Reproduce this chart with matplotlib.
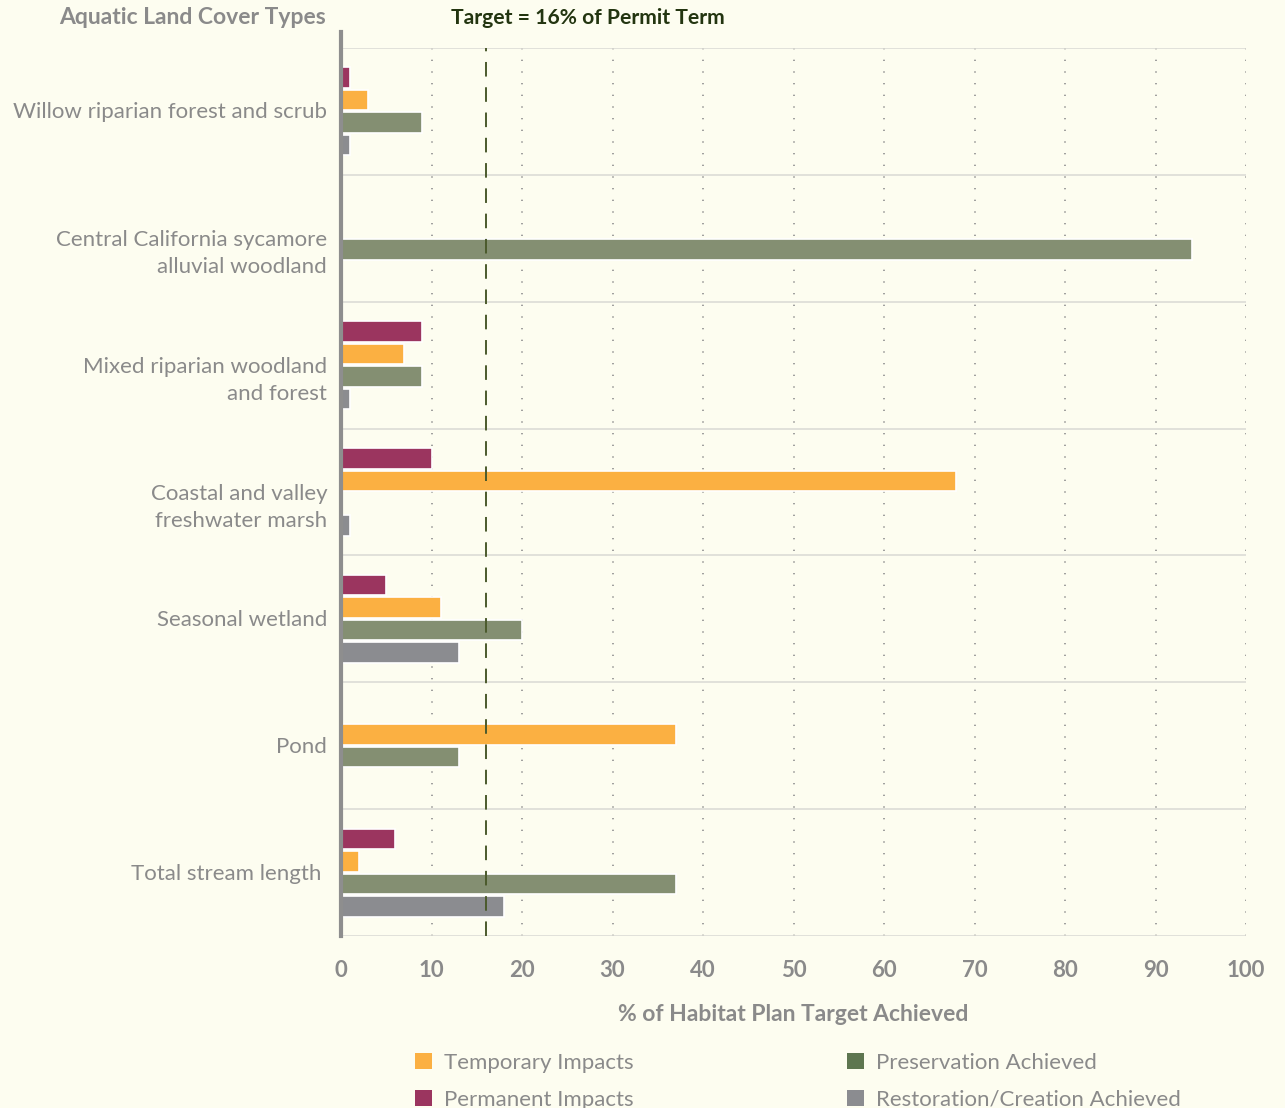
import matplotlib
matplotlib.use("Agg")
import matplotlib.pyplot as plt
import matplotlib.transforms as mtransforms
import numpy as np
from matplotlib.patches import Patch

plt.rcParams['font.family'] = ['Lato', 'DejaVu Sans']

# habitat categories, top to bottom
categories = [
    "Willow riparian forest and scrub",
    "Central California sycamore\nalluvial woodland",
    "Mixed riparian woodland\nand forest",
    "Coastal and valley\nfreshwater marsh",
    "Seasonal wetland",
    "Pond",
    "Total stream length ",
]

# % of habitat plan target achieved
permanent = [1, 0, 9, 10, 5, 0, 6]
temporary = [3, 0, 7, 68, 11, 37, 2]
preservation = [9, 94, 9, 0, 20, 13, 37]
restoration = [1, 0, 1, 1, 13, 0, 18]

target = 16

bar_colors = ["#9b355f", "#fbb042", "#848f72", "#8b8c90"]
legend_colors = {"Temporary Impacts": "#fbb042", "Permanent Impacts": "#9b355f",
                 "Preservation Achieved": "#5e7650",
                 "Restoration/Creation Achieved": "#8b8c90"}

bg = "#fdfdf0"
grey_text = "#8a8a8a"

fig = plt.figure(figsize=(12.85, 11.08), dpi=100, facecolor=bg)
ax = fig.add_axes([0.2654, 0.1552, 0.7043, 0.8015], facecolor=bg)

y = np.arange(len(categories))
step = 0.177
offsets = (np.arange(4) - 1.5) * step
for vals, off, col in zip([permanent, temporary, preservation, restoration],
                          offsets, bar_colors):
    vals = np.array(vals, dtype=float)
    keep = vals > 0
    ax.barh(y[keep] + off, vals[keep], height=0.162, color=col,
            edgecolor="white", linewidth=1.2, zorder=3)

ax.set_xlim(0, 100)
ax.set_ylim(len(categories) - 0.5, -0.5)

# dotted vertical grid and solid separators between categories
for xv in range(10, 101, 10):
    ax.axvline(xv, color="#8f8f8f", lw=1.2, linestyle=(0, (0.8, 6.2)), zorder=1)
for yb in np.arange(-0.5, len(categories), 1.0):
    ax.axhline(yb, color="#dcdcd6", lw=1.2, zorder=1)

ax.axvline(target, color="#4b5a2c", lw=1.4, dashes=(7.5, 5.5), zorder=4)

for s in ["top", "right", "bottom", "left"]:
    ax.spines[s].set_visible(False)
ax.axvline(0, ymin=0, ymax=1 + 16 / 888, color="#8e8e8e", lw=3,
           clip_on=False, zorder=5)

ax.set_yticks(y)
ax.set_yticklabels(categories, fontsize=16, color=grey_text,
                   linespacing=1.45)
ax.tick_params(axis="y", length=0, pad=10)
# two-line labels sit a little lower than the band centre
for lbl, name in zip(ax.get_yticklabels(), categories):
    dy = -10 if "\n" in name else 1
    lbl.set_transform(lbl.get_transform() +
                      mtransforms.ScaledTranslation(0, dy / 100, fig.dpi_scale_trans))

ax.set_xticks(range(0, 101, 10))
ax.set_xticklabels([str(v) for v in range(0, 101, 10)], fontsize=16,
                   color=grey_text, fontweight="bold")
ax.tick_params(axis="x", length=0, pad=17)
ax.set_xlabel("% of Habitat Plan Target Achieved", fontsize=16.5,
              color=grey_text, fontweight="bold", labelpad=17)

fig.text(326 / 1285, 1 - 18 / 1108, "Aquatic Land Cover Types", ha="right",
         va="center", fontsize=16.5, color=grey_text, fontweight="bold")
fig.text(588 / 1285, 1 - 18 / 1108, "Target = 16% of Permit Term", ha="center",
         va="center", fontsize=15.2, color="#233510", fontweight="bold")

order = ["Temporary Impacts", "Permanent Impacts",
         "Preservation Achieved", "Restoration/Creation Achieved"]
handles = [Patch(facecolor=legend_colors[n], edgecolor="none", label=n)
           for n in order]
fig.legend(handles=handles, ncol=2, loc="upper left",
           bbox_to_anchor=(395 / 1285, 1 - 1033 / 1108), frameon=False,
           fontsize=16, labelcolor=grey_text, handlelength=0.75,
           handleheight=0.75, handletextpad=0.55, columnspacing=9.6,
           labelspacing=0.75)

fig.savefig("out.png", dpi=100, facecolor=bg)
